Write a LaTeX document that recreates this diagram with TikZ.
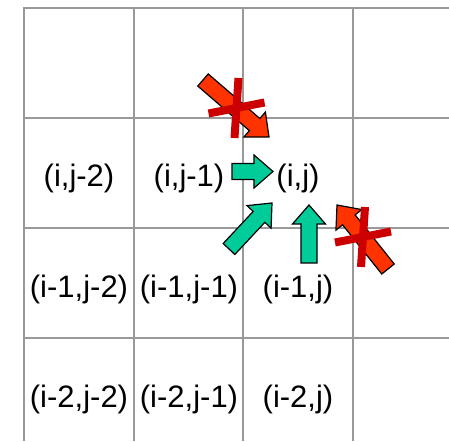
\documentclass[tikz,border=0pt]{standalone}
\usepackage{fontspec}
\setmainfont{Liberation Sans}
\usetikzlibrary{calc}
\definecolor{gridgray}{RGB}{153,153,153}
\definecolor{okgreen}{RGB}{0,204,153}
\definecolor{badred}{RGB}{255,51,0}
\definecolor{crossred}{RGB}{204,0,0}
\newcommand\shafthalf{8pt}
\newcommand\headhalf{16.5pt}
\newcommand\headlen{19pt}
\tikzset{
  gridline/.style={draw=gridgray,line width=1.6pt},
  cell/.style={font=\fontsize{31}{36}\selectfont,inner sep=4pt},
  good/.style={draw=black,fill=okgreen,line width=1.2pt},
  bad/.style={draw=black,fill=badred,line width=1.2pt},
  crossbar/.style={draw=crossred,line width=8pt},
}
% block arrow: style, tail, tip
\newcommand\blockarrow[3]{%
  \coordinate (hb) at ($(#3)!\headlen!(#2)$);
  \draw[#1] ($(#2)!\shafthalf!90:(#3)$) -- ($(hb)!\shafthalf!90:(#3)$)
    -- ($(hb)!\headhalf!90:(#3)$) -- (#3) -- ($(hb)!\headhalf!-90:(#3)$)
    -- ($(hb)!\shafthalf!-90:(#3)$) -- ($(#2)!\shafthalf!-90:(#3)$) -- cycle;
}
% red cross over a forbidden move
\newcommand\crossout[1]{%
  \draw[crossbar] ($(#1)+(2,30)$) -- ($(#1)+(-2,-30)$);
  \draw[crossbar] ($(#1)+(-28,-5.5)$) -- ($(#1)+(28,5.5)$);
}

\begin{document}
\begin{tikzpicture}[x=1pt,y=1pt]
  \useasboundingbox (0,0) rectangle (449,441);
  % grid
  \foreach \x in {24,134,243,353} \draw[gridline] (\x,0) -- (\x,433.8);
  \foreach \y in {433,323,213,103} \draw[gridline] (24,\y) -- (449,\y);
  % cells
  \node[cell] (ij2) at (79,262.5) {(i,j-2)};
  \node[cell] (ij1) at (189,262.5) {(i,j-1)};
  \node[cell] (ij) at (298,262.5) {(i,j)};
  \node[cell] (i1j2) at (79,152) {(i-1,j-2)};
  \node[cell] (i1j1) at (189,152) {(i-1,j-1)};
  \node[cell] (i1j) at (298,152) {(i-1,j)};
  \node[cell] (i2j2) at (79,42) {(i-2,j-2)};
  \node[cell] (i2j1) at (189,42) {(i-2,j-1)};
  \node[cell] (i2j) at (298,42) {(i-2,j)};
  % arrow ends
  \coordinate (h-tail) at (232,269.5);
  \coordinate (h-tip) at (273,269.5);
  \coordinate (d-tail) at (229,192);
  \coordinate (d-tip) at (272,238);
  \coordinate (v-tail) at (309,178);
  \coordinate (v-tip) at (309,236);
  \coordinate (r1-tail) at (203,361);
  \coordinate (r1-tip) at (269,304);
  \coordinate (r2-tail) at (388,172);
  \coordinate (r2-tip) at (337,236);
  % allowed moves
  \blockarrow{good}{h-tail}{h-tip}
  \blockarrow{good}{d-tail}{d-tip}
  \blockarrow{good}{v-tail}{v-tip}
  % forbidden moves
  \blockarrow{bad}{r1-tail}{r1-tip}
  \blockarrow{bad}{r2-tail}{r2-tip}
  \coordinate (x1) at (236.5,333);
  \coordinate (x2) at (363,204);
  \crossout{x1}
  \crossout{x2}
\end{tikzpicture}
\end{document}
